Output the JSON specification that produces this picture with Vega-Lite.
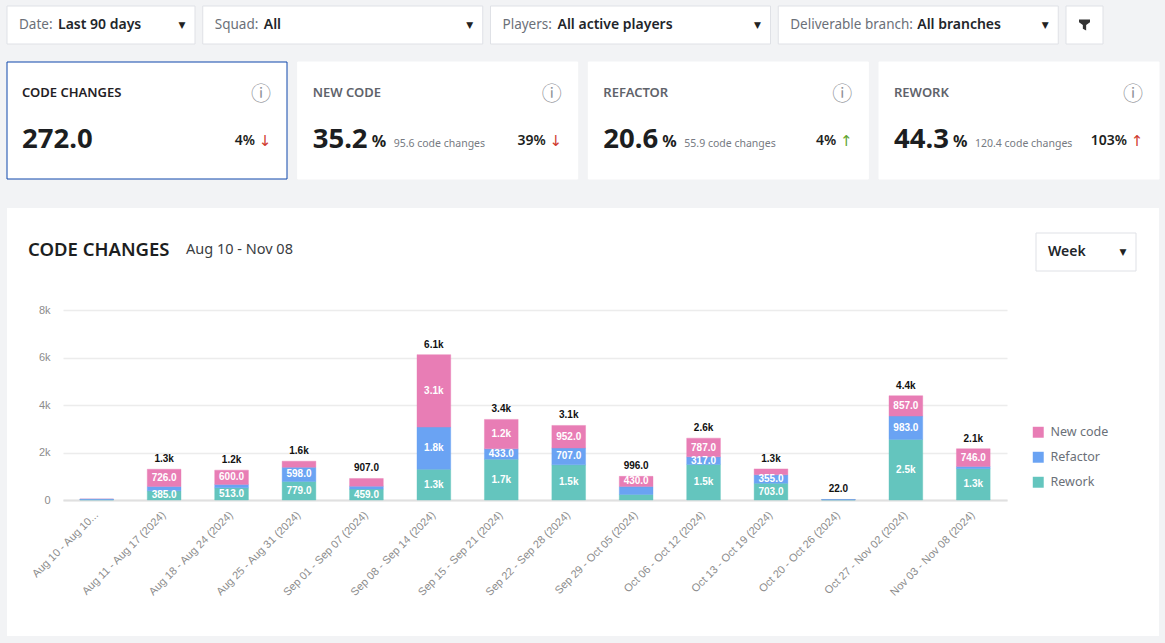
{
  "$schema": "https://vega.github.io/schema/vega-lite/v6.json",
  "background": "#f2f3f5",
  "padding": {"left": 6, "top": 5, "right": 7, "bottom": 7},
  "spacing": 28,
  "config": {
    "view": {"fill": "white", "stroke": null},
    "concat": {"spacing": 0},
    "text": {"font": "Noto Sans", "align": "left", "baseline": "middle"}
  },
  "datasets": {
    "segments": [
      {"period": "Aug 10 - Aug 10...", "segment": "New code", "value": 5, "label": ""},
      {"period": "Aug 10 - Aug 10...", "segment": "Rework", "value": 10, "label": ""},
      {"period": "Aug 10 - Aug 10...", "segment": "Refactor", "value": 25, "label": ""},
      {"period": "Aug 11 - Aug 17 (2024)", "segment": "Rework", "value": 385, "label": "385.0"},
      {"period": "Aug 11 - Aug 17 (2024)", "segment": "Refactor", "value": 184, "label": ""},
      {"period": "Aug 11 - Aug 17 (2024)", "segment": "New code", "value": 726, "label": "726.0"},
      {"period": "Aug 18 - Aug 24 (2024)", "segment": "Rework", "value": 513, "label": "513.0"},
      {"period": "Aug 18 - Aug 24 (2024)", "segment": "Refactor", "value": 144, "label": ""},
      {"period": "Aug 18 - Aug 24 (2024)", "segment": "New code", "value": 600, "label": "600.0"},
      {"period": "Aug 25 - Aug 31 (2024)", "segment": "Rework", "value": 779, "label": "779.0"},
      {"period": "Aug 25 - Aug 31 (2024)", "segment": "Refactor", "value": 598, "label": "598.0"},
      {"period": "Aug 25 - Aug 31 (2024)", "segment": "New code", "value": 257, "label": ""},
      {"period": "Sep 01 - Sep 07 (2024)", "segment": "Rework", "value": 459, "label": "459.0"},
      {"period": "Sep 01 - Sep 07 (2024)", "segment": "Refactor", "value": 125, "label": ""},
      {"period": "Sep 01 - Sep 07 (2024)", "segment": "New code", "value": 323, "label": ""},
      {"period": "Sep 08 - Sep 14 (2024)", "segment": "Rework", "value": 1290, "label": "1.3k"},
      {"period": "Sep 08 - Sep 14 (2024)", "segment": "Refactor", "value": 1780, "label": "1.8k"},
      {"period": "Sep 08 - Sep 14 (2024)", "segment": "New code", "value": 3050, "label": "3.1k"},
      {"period": "Sep 15 - Sep 21 (2024)", "segment": "Rework", "value": 1720, "label": "1.7k"},
      {"period": "Sep 15 - Sep 21 (2024)", "segment": "Refactor", "value": 433, "label": "433.0"},
      {"period": "Sep 15 - Sep 21 (2024)", "segment": "New code", "value": 1240, "label": "1.2k"},
      {"period": "Sep 22 - Sep 28 (2024)", "segment": "Rework", "value": 1480, "label": "1.5k"},
      {"period": "Sep 22 - Sep 28 (2024)", "segment": "Refactor", "value": 707, "label": "707.0"},
      {"period": "Sep 22 - Sep 28 (2024)", "segment": "New code", "value": 952, "label": "952.0"},
      {"period": "Sep 29 - Oct 05 (2024)", "segment": "Rework", "value": 231, "label": ""},
      {"period": "Sep 29 - Oct 05 (2024)", "segment": "Refactor", "value": 335, "label": ""},
      {"period": "Sep 29 - Oct 05 (2024)", "segment": "New code", "value": 430, "label": "430.0"},
      {"period": "Oct 06 - Oct 12 (2024)", "segment": "Rework", "value": 1500, "label": "1.5k"},
      {"period": "Oct 06 - Oct 12 (2024)", "segment": "Refactor", "value": 317, "label": "317.0"},
      {"period": "Oct 06 - Oct 12 (2024)", "segment": "New code", "value": 787, "label": "787.0"},
      {"period": "Oct 13 - Oct 19 (2024)", "segment": "Rework", "value": 703, "label": "703.0"},
      {"period": "Oct 13 - Oct 19 (2024)", "segment": "Refactor", "value": 355, "label": "355.0"},
      {"period": "Oct 13 - Oct 19 (2024)", "segment": "New code", "value": 252, "label": ""},
      {"period": "Oct 20 - Oct 26 (2024)", "segment": "New code", "value": 4, "label": ""},
      {"period": "Oct 20 - Oct 26 (2024)", "segment": "Rework", "value": 6, "label": ""},
      {"period": "Oct 20 - Oct 26 (2024)", "segment": "Refactor", "value": 12, "label": ""},
      {"period": "Oct 27 - Nov 02 (2024)", "segment": "Rework", "value": 2550, "label": "2.5k"},
      {"period": "Oct 27 - Nov 02 (2024)", "segment": "Refactor", "value": 983, "label": "983.0"},
      {"period": "Oct 27 - Nov 02 (2024)", "segment": "New code", "value": 857, "label": "857.0"},
      {"period": "Nov 03 - Nov 08 (2024)", "segment": "Rework", "value": 1320, "label": "1.3k"},
      {"period": "Nov 03 - Nov 08 (2024)", "segment": "Refactor", "value": 90, "label": ""},
      {"period": "Nov 03 - Nov 08 (2024)", "segment": "New code", "value": 746, "label": "746.0"}
    ],
    "totals": [
      {"period": "Aug 11 - Aug 17 (2024)", "total": 1295, "label": "1.3k"},
      {"period": "Aug 18 - Aug 24 (2024)", "total": 1257, "label": "1.2k"},
      {"period": "Aug 25 - Aug 31 (2024)", "total": 1634, "label": "1.6k"},
      {"period": "Sep 01 - Sep 07 (2024)", "total": 907, "label": "907.0"},
      {"period": "Sep 08 - Sep 14 (2024)", "total": 6120, "label": "6.1k"},
      {"period": "Sep 15 - Sep 21 (2024)", "total": 3393, "label": "3.4k"},
      {"period": "Sep 22 - Sep 28 (2024)", "total": 3139, "label": "3.1k"},
      {"period": "Sep 29 - Oct 05 (2024)", "total": 996, "label": "996.0"},
      {"period": "Oct 06 - Oct 12 (2024)", "total": 2604, "label": "2.6k"},
      {"period": "Oct 13 - Oct 19 (2024)", "total": 1310, "label": "1.3k"},
      {"period": "Oct 20 - Oct 26 (2024)", "total": 22, "label": "22.0"},
      {"period": "Oct 27 - Nov 02 (2024)", "total": 4390, "label": "4.4k"},
      {"period": "Nov 03 - Nov 08 (2024)", "total": 2156, "label": "2.1k"}
    ]
  },
  "vconcat": [
    {
      "spacing": 16,
      "vconcat": [
        {
          "spacing": 7.75,
          "bounds": "flush",
          "hconcat": [
            {
              "width": 188, "height": 38,
              "data": {"values": [{"label": "Date:", "value": "Last 90 days", "caret": "▼"}]},
              "layer": [
                {"mark": {"type": "rect", "fill": "white", "stroke": "#dfe1e6"}},
                {"mark": {"type": "text", "fontSize": 13.5, "fill": "#6b7078", "dx": -82}, "encoding": {"text": {"field": "label"}}},
                {"mark": {"type": "text", "fontSize": 14, "fontWeight": 600, "fill": "#22252a", "dx": -43}, "encoding": {"text": {"field": "value"}}},
                {"mark": {"type": "text", "font": "DejaVu Sans", "fontSize": 9, "align": "center", "fill": "#222", "dx": 81}, "encoding": {"text": {"field": "caret"}}}
              ]
            },
            {
              "width": 280, "height": 38,
              "data": {"values": [{"label": "Squad:", "value": "All", "caret": "▼"}]},
              "layer": [
                {"mark": {"type": "rect", "fill": "white", "stroke": "#dfe1e6"}},
                {"mark": {"type": "text", "fontSize": 13.5, "fill": "#6b7078", "dx": -128}, "encoding": {"text": {"field": "label"}}},
                {"mark": {"type": "text", "fontSize": 14, "fontWeight": 600, "fill": "#22252a", "dx": -79}, "encoding": {"text": {"field": "value"}}},
                {"mark": {"type": "text", "font": "DejaVu Sans", "fontSize": 9, "align": "center", "fill": "#222", "dx": 127}, "encoding": {"text": {"field": "caret"}}}
              ]
            },
            {
              "width": 280, "height": 38,
              "data": {"values": [{"label": "Players:", "value": "All active players", "caret": "▼"}]},
              "layer": [
                {"mark": {"type": "rect", "fill": "white", "stroke": "#dfe1e6"}},
                {"mark": {"type": "text", "fontSize": 13.5, "fill": "#6b7078", "dx": -128}, "encoding": {"text": {"field": "label"}}},
                {"mark": {"type": "text", "fontSize": 14, "fontWeight": 600, "fill": "#22252a", "dx": -73}, "encoding": {"text": {"field": "value"}}},
                {"mark": {"type": "text", "font": "DejaVu Sans", "fontSize": 9, "align": "center", "fill": "#222", "dx": 127}, "encoding": {"text": {"field": "caret"}}}
              ]
            },
            {
              "width": 280, "height": 38,
              "data": {"values": [{"label": "Deliverable branch:", "value": "All branches", "caret": "▼"}]},
              "layer": [
                {"mark": {"type": "rect", "fill": "white", "stroke": "#dfe1e6"}},
                {"mark": {"type": "text", "fontSize": 13.5, "fill": "#6b7078", "dx": -128}, "encoding": {"text": {"field": "label"}}},
                {"mark": {"type": "text", "fontSize": 14, "fontWeight": 600, "fill": "#22252a", "dx": -1}, "encoding": {"text": {"field": "value"}}},
                {"mark": {"type": "text", "font": "DejaVu Sans", "fontSize": 9, "align": "center", "fill": "#222", "dx": 127}, "encoding": {"text": {"field": "caret"}}}
              ]
            },
            {
              "width": 37, "height": 38,
              "data": {"values": [{"icon": "filter"}]},
              "layer": [
                {"mark": {"type": "rect", "fill": "white", "stroke": "#dfe1e6"}},
                {"mark": {"type": "point", "filled": true, "fill": "#333", "opacity": 1, "size": 121, "shape": "M-1,-1H1V-0.5L0.3,0V1L-0.3,0.7V0L-1,-0.5Z"}}
              ]
            }
          ]
        },
        {
          "data": {"values": [
            {"metric": "CODE CHANGES", "value": "272.0", "unit": "", "note": "", "delta": "4%", "arrow": "↓"},
            {"metric": "NEW CODE", "value": "35.2", "unit": "%", "note": "95.6 code changes", "delta": "39%", "arrow": "↓"},
            {"metric": "REFACTOR", "value": "20.6", "unit": "%", "note": "55.9 code changes", "delta": "4%", "arrow": "↑"},
            {"metric": "REWORK", "value": "44.3", "unit": "%", "note": "120.4 code changes", "delta": "103%", "arrow": "↑"}
          ]},
          "facet": {"column": {"field": "metric", "type": "nominal", "sort": null, "header": null}},
          "spacing": 10.67,
          "bounds": "flush",
          "spec": {
            "width": 280, "height": 117,
            "layer": [
              {"mark": {"type": "rect", "fill": "white"}, "encoding": {"stroke": {"condition": {"test": "datum.metric === 'CODE CHANGES'", "value": "#0f47ab"}, "value": "#ffffff"}}},
              {"mark": {"type": "text", "fontSize": 13, "fontWeight": 600, "dx": -125, "dy": -28}, "encoding": {"text": {"field": "metric"}, "color": {"condition": {"test": "datum.metric === 'CODE CHANGES'", "value": "#1f2125"}, "value": "#5f636b"}}},
              {"mark": {"type": "text", "font": "Noto Sans CJK JP", "fontSize": 20, "align": "center", "fill": "#8f9298", "dx": 114, "dy": -26}, "encoding": {"text": {"value": "ⓘ"}}},
              {"mark": {"type": "text", "fontSize": 27.5, "fontWeight": 700, "fill": "#1c1e21", "dx": -125, "dy": 19}, "encoding": {"text": {"field": "value"}}},
              {"mark": {"type": "text", "fontSize": 16, "fontWeight": 700, "fill": "#1c1e21", "dx": -66, "dy": 21}, "encoding": {"text": {"field": "unit"}}},
              {"mark": {"type": "text", "fontSize": 10.5, "fill": "#767a82", "dx": -44, "dy": 23}, "encoding": {"text": {"field": "note"}}},
              {"mark": {"type": "text", "fontSize": 14, "fontWeight": 600, "align": "right", "fill": "#1c1e21", "dx": 108, "dy": 20}, "encoding": {"text": {"field": "delta"}}},
              {"mark": {"type": "text", "font": "DejaVu Sans", "fontSize": 15, "align": "center", "dx": 118, "dy": 20}, "encoding": {"text": {"field": "arrow"}, "color": {"condition": {"test": "datum.metric === 'REFACTOR'", "value": "#5fa52e"}, "value": "#cf3a2e"}}}
            ]
          }
        }
      ]
    },
    {
      "width": 1152, "height": 428,
      "layer": [
        {
          "data": {"values": [{"title": "CODE CHANGES"}]},
          "mark": {"type": "text", "fontSize": 18.5, "fontWeight": 600, "fill": "#1c1e21", "dx": -555, "dy": -172},
          "encoding": {"text": {"field": "title"}}
        },
        {
          "data": {"values": [{"range": "Aug 10 - Nov 08"}]},
          "mark": {"type": "text", "fontSize": 14.5, "fill": "#3a3d42", "dx": -397, "dy": -172},
          "encoding": {"text": {"field": "range"}}
        },
        {
          "data": {"values": [{"control": "Week", "caret": "▼"}]},
          "layer": [
            {"mark": {"type": "point", "filled": false, "stroke": "#dfe1e6", "strokeWidth": 1, "opacity": 1, "size": 4, "shape": "M453,-189H553V-151H453Z"}},
            {"mark": {"type": "text", "fontSize": 14, "fontWeight": 600, "fill": "#22252a", "dx": 465, "dy": -170}, "encoding": {"text": {"field": "control"}}},
            {"mark": {"type": "text", "font": "DejaVu Sans", "fontSize": 9, "align": "center", "fill": "#222", "dx": 540, "dy": -170}, "encoding": {"text": {"field": "caret"}}}
          ]
        },
        {
          "encoding": {
            "x": {
              "field": "period",
              "type": "nominal",
              "sort": null,
              "title": null,
              "scale": {"range": [56, 1000], "paddingInner": 0.5, "paddingOuter": 0.25},
              "axis": {
                "offset": -136,
                "ticks": false,
                "labelAngle": -45,
                "labelAlign": "right",
                "labelBaseline": "middle",
                "labelPadding": 13,
                "labelFont": "Liberation Sans",
                "labelFontSize": 11,
                "labelColor": "#8c8c8c",
                "labelLimit": 200,
                "labelOverlap": false,
                "domainColor": "#e0e0e0",
                "domainWidth": 2
              }
            }
          },
          "layer": [
            {
              "data": {"name": "segments"},
              "transform": [{"stack": "value", "groupby": ["period"], "sort": [{"field": "segment", "order": "descending"}], "as": ["y0", "y1"]}],
              "mark": {"type": "bar", "strokeWidth": 1, "strokeOpacity": 0.4},
              "encoding": {
                "y": {
                  "field": "y0",
                  "type": "quantitative",
                  "title": null,
                  "scale": {"domain": [0, 8000], "range": [292, 102], "nice": false},
                  "axis": {
                    "offset": -50,
                    "values": [0, 2000, 4000, 6000, 8000],
                    "labelExpr": "datum.value === 0 ? '0' : datum.value / 1000 + 'k'",
                    "domain": false,
                    "ticks": false,
                    "grid": true,
                    "labelPadding": 7,
                    "labelFont": "Liberation Sans",
                    "labelFontSize": 11,
                    "labelColor": "#8c8c8c",
                    "gridColor": "#ececec",
                    "gridWidth": 1.5
                  }
                },
                "y2": {"field": "y1"},
                "color": {
                  "field": "segment",
                  "type": "nominal",
                  "scale": {"domain": ["New code", "Refactor", "Rework"], "range": ["#e87db5", "#6aa3f3", "#64c5be"]},
                  "legend": {
                    "title": null,
                    "orient": "none",
                    "legendX": 1025,
                    "legendY": 420,
                    "symbolType": "square",
                    "symbolSize": 120,
                    "symbolStrokeWidth": 0,
                    "labelFont": "Noto Sans",
                    "labelFontSize": 12.5,
                    "labelColor": "#6b7078",
                    "labelOffset": 6,
                    "rowPadding": 12
                  }
                },
                "stroke": {"field": "segment", "type": "nominal", "scale": {"domain": ["New code", "Refactor", "Rework"], "range": ["#e87db5", "#6aa3f3", "#64c5be"]}, "legend": null}
              }
            },
            {
              "data": {"name": "segments"},
              "transform": [
                {"stack": "value", "groupby": ["period"], "sort": [{"field": "segment", "order": "descending"}], "as": ["y0", "y1"]},
                {"fold": ["y0", "y1"], "as": ["edge", "level"]}
              ],
              "mark": {"type": "text", "font": "Liberation Sans", "fontSize": 10, "fontWeight": "bold", "align": "center", "fill": "white"},
              "encoding": {
                "y": {"aggregate": "mean", "field": "level", "type": "quantitative", "title": null},
                "detail": {"field": "segment"},
                "text": {"field": "label"}
              }
            },
            {
              "data": {"name": "totals"},
              "mark": {"type": "text", "font": "Liberation Sans", "fontSize": 10, "fontWeight": "bold", "align": "center", "fill": "#111", "dy": -10},
              "encoding": {
                "y": {"field": "total", "type": "quantitative", "title": null},
                "text": {"field": "label"}
              }
            }
          ]
        }
      ]
    }
  ]
}
